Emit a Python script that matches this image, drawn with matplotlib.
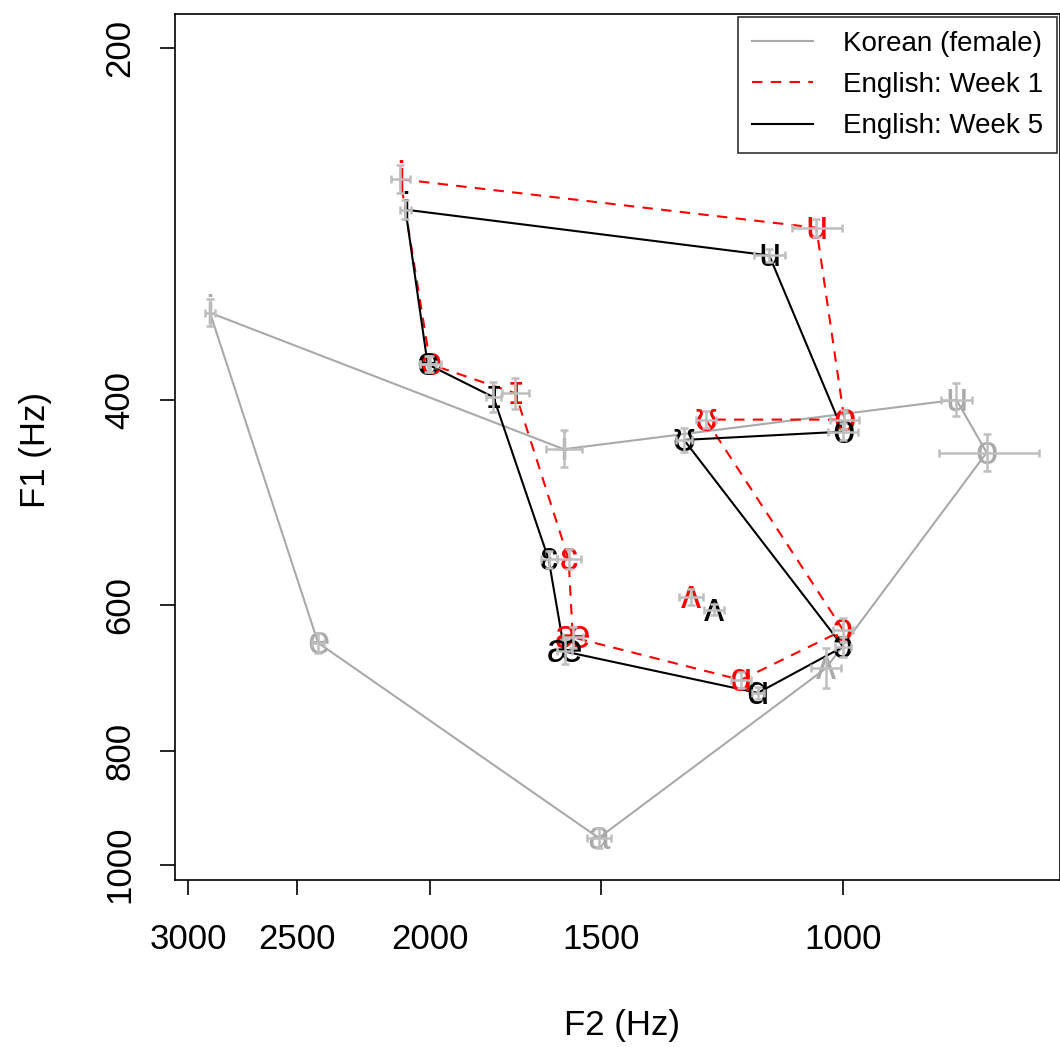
import numpy as np
import matplotlib
matplotlib.use("Agg")
import matplotlib.pyplot as plt
from matplotlib.lines import Line2D

plt.rcParams['font.family'] = ['Liberation Sans', 'DejaVu Sans']

# Korean (female) vowels, polygon order
kor_vowels = ['i', 'ɨ', 'u', 'o', 'ʌ', 'a', 'e']
kor_f2 = [2893, 1598, 827, 786, 1029, 1507, 2413]
kor_f1 = [337, 441, 400, 444, 679, 949, 646]
kor_f2_err = [24, 48, 21, 66, 26, 30, 24]
kor_f1_err = [9, 16, 13, 16, 27, 19, 13]

# English week 1, polygon order
eng_vowels = ['i', 'u', 'o', 'ʊ', 'ɔ', 'ɑ', 'æ', 'ɛ', 'ɪ', 'e']
w1_f2 = [2102, 1046, 998, 1259, 1000, 1187, 1574, 1585, 1733, 1999]
w1_f1 = [259, 285, 416, 416, 630, 695, 639, 548, 395, 373]
w1_f2_err = [35, 44, 25, 21, 17, 20, 26, 32, 38, 34]
w1_f1_err = [7, 5, 8, 7, 15, 11, 13, 11, 12, 6]

# English week 5
w5_f2 = [2084, 1132, 1000, 1306, 1000, 1154, 1596, 1639, 1798, 2008]
w5_f1 = [275, 301, 426, 433, 651, 713, 657, 548, 398, 373]
w5_f2_err = [18, 29, 25, 18, 13, 12, 21, 22, 24, 27]
w5_f1_err = [5, 4, 7, 10, 13, 8, 16, 9, 12, 6]

# ʌ is plotted but not part of the English polygon
w1_schwa = (1291, 590, 26, 9)
w5_schwa = (1242, 605, 21, 7)

x_ticks = [3000, 2500, 2000, 1500, 1000]
y_ticks = [200, 400, 600, 800, 1000]

fig = plt.figure(figsize=(10.6, 10.47), dpi=100)
ax = fig.add_axes([175 / 1060, 1 - 880 / 1047, 885 / 1060, 866 / 1047])
ax.set_xscale('log')
ax.set_yscale('log')

kor_col = '#a9a9a9'
err_col = '#bebebe'


def closed(v):
    return list(v) + [v[0]]


ax.plot(closed(kor_f2), closed(kor_f1), color=kor_col, lw=1.5, zorder=2)
ax.plot(closed(w1_f2), closed(w1_f1), color='red', lw=1.5, ls=(0, (5, 4)), zorder=2)
ax.plot(closed(w5_f2), closed(w5_f1), color='black', lw=1.5, zorder=2)

lab_fs = 29
for v, x, y in zip(kor_vowels, kor_f2, kor_f1):
    ax.text(x, y, v, color=kor_col, fontsize=lab_fs, ha='center', va='center', zorder=3)
for v, x, y in zip(eng_vowels, w1_f2, w1_f1):
    ax.text(x, y, v, color='red', fontsize=lab_fs, ha='center', va='center', zorder=3)
for v, x, y in zip(eng_vowels, w5_f2, w5_f1):
    ax.text(x, y, v, color='black', fontsize=lab_fs, ha='center', va='center', zorder=3)
ax.text(w1_schwa[0], w1_schwa[1], 'ʌ', color='red', fontsize=lab_fs, ha='center', va='center', zorder=3)
ax.text(w5_schwa[0], w5_schwa[1], 'ʌ', color='black', fontsize=lab_fs, ha='center', va='center', zorder=3)

ekw = dict(fmt='none', ecolor=err_col, elinewidth=1.8, capsize=3, capthick=1.8, zorder=4)
ax.errorbar(kor_f2, kor_f1, xerr=kor_f2_err, yerr=kor_f1_err, **ekw)
ax.errorbar(w1_f2, w1_f1, xerr=w1_f2_err, yerr=w1_f1_err, **ekw)
ax.errorbar(w5_f2, w5_f1, xerr=w5_f2_err, yerr=w5_f1_err, **ekw)
ax.errorbar([w1_schwa[0], w5_schwa[0]], [w1_schwa[1], w5_schwa[1]],
            xerr=[w1_schwa[2], w5_schwa[2]], yerr=[w1_schwa[3], w5_schwa[3]], **ekw)

ax.set_xlim(3068, 695)
ax.set_ylim(1031, 187)
ax.xaxis.set_minor_locator(matplotlib.ticker.NullLocator())
ax.yaxis.set_minor_locator(matplotlib.ticker.NullLocator())
ax.set_xticks(x_ticks)
ax.set_xticklabels([str(t) for t in x_ticks])
ax.set_yticks(y_ticks)
ax.set_yticklabels([str(t) for t in y_ticks], rotation=90, va='center')
ax.tick_params(axis='both', labelsize=25, length=11, width=1.2, direction='out')
ax.tick_params(axis='x', pad=20)
ax.tick_params(axis='y', pad=17)
for s in ax.spines.values():
    s.set_linewidth(1.2)

fig.text(622 / 1060, 1 - 1025 / 1047, 'F2 (Hz)', fontsize=25, ha='center', va='center')
fig.text(35 / 1060, 1 - 450 / 1047, 'F1 (Hz)', fontsize=25, ha='center', va='center', rotation=90)

handles = [Line2D([], [], color=kor_col, lw=1.5),
           Line2D([], [], color='red', lw=1.5, ls=(0, (5, 4))),
           Line2D([], [], color='black', lw=1.5)]
leg = ax.legend(handles, ['Korean (female)', 'English: Week 1', 'English: Week 5'],
                loc='upper right', fontsize=20, frameon=True, fancybox=False,
                edgecolor='black', borderaxespad=0.1, handlelength=2.2,
                handletextpad=1.1, labelspacing=0.55, borderpad=0.5)
leg.get_frame().set_linewidth(1.2)

fig.savefig('out.png', dpi=100)
